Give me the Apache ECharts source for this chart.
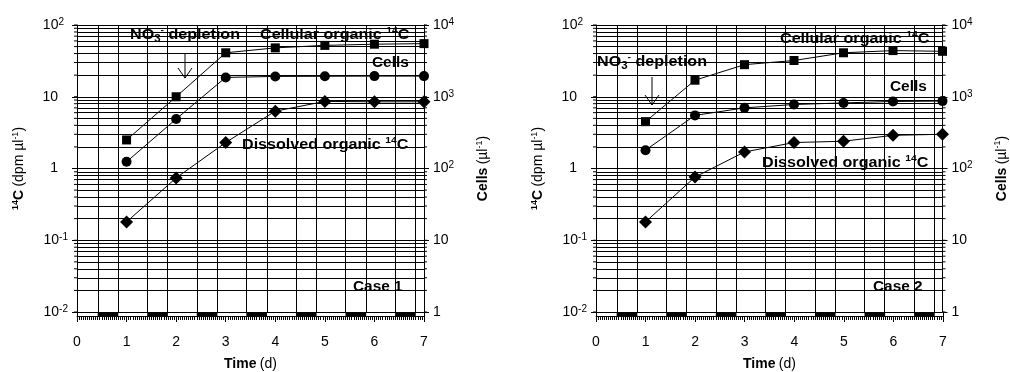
<!DOCTYPE html>
<html>
<head>
<meta charset="utf-8">
<script src="https://cdn.jsdelivr.net/npm/echarts@6/dist/echarts.min.js"></script>
<style>
  html, body { margin: 0; padding: 0; background: #fff; }
  #chart { width: 1010px; height: 372px; }
</style>
</head>
<body>
<div id="chart"></div>
<script>
// Sampling days
const days = [1, 2, 3, 4, 5, 6, 7];

// Case 1: 14C in dpm per µl, cells per µl
const case1Cellular = [2.5, 10, 41, 48, 52, 54, 55];
const case1Cells = [124, 490, 1860, 1920, 1930, 1940, 1940];
const case1Dissolved = [0.18, 0.74, 2.3, 6.3, 8.6, 8.5, 8.5];

// Case 2
const case2Cellular = [4.5, 17, 28, 32, 41, 44, 43];
const case2Cells = [180, 550, 700, 780, 820, 860, 870];
const case2Dissolved = [0.18, 0.76, 1.7, 2.3, 2.4, 2.9, 3.0];

// Light/dark cycle: dark from 10 h to 20 h each day
const darkStartHour = 10;
const darkEndHour = 20;
const nDays = 7;

const FONT = '"Liberation Sans", Arial, Helvetica, sans-serif';
const INK = '#000';

const darkPeriods = [];
const cycleLines = [];
for (let d = 0; d < nDays; d++) {
  const s = d + darkStartHour / 24, e = d + darkEndHour / 24;
  darkPeriods.push([s, e]);
  cycleLines.push(s, e);
}

// Intermediate log grid values (2..9 x 10^n) for the 14C axis
const minorLogValues = [];
for (let e = -2; e < 2; e++) {
  for (let k = 2; k <= 9; k++) minorLogValues.push(k * Math.pow(10, e));
}
const allLogValues = [];
for (let e = -2; e < 2; e++) {
  for (let k = 1; k <= 9; k++) allLogValues.push(k * Math.pow(10, e));
}
allLogValues.push(100);

const supRich = {
  n: { fontFamily: FONT, fontSize: 14, color: INK, lineHeight: 16 },
  s: { fontFamily: FONT, fontSize: 10, color: INK, verticalAlign: 'top', lineHeight: 16 },
  g: { fontFamily: FONT, fontSize: 10, color: INK, width: 10, lineHeight: 16 },
  h: { fontFamily: FONT, fontSize: 10, color: INK, width: 4, lineHeight: 16 }
};

function expText(e) { return e < 0 ? '-' + (-e) : String(e); }

// Left axis: base numbers line up, superscripts hang to the right
function leftLabel(v) {
  const e = Math.round(Math.log10(v));
  if (e === 0) return '{n|1}{g| }';
  if (e === 1) return '{n|10}{g| }';
  if (e > 0) return '{n|10}{s|' + expText(e) + '}{h| }';
  return '{n|10}{s|' + expText(e) + '}';
}
function rightLabel(v) {
  const e = Math.round(Math.log10(v));
  if (e === 0) return '{n|1}';
  if (e === 1) return '{n|10}';
  return '{n|10}{s|' + expText(e) + '}';
}

const zip = (xs, ys) => xs.map((x, i) => [x, ys[i]]);

const grid = [], xAxis = [], yAxis = [], series = [];

function addPanel(p, left, cellular, cells, dissolved) {
  const top = 25, mainH = 287, stripH = 5, width = 347;
  grid.push({ left: left, top: top, width: width, height: mainH });
  grid.push({ left: left, top: top + mainH, width: width, height: stripH });

  const gMain = 2 * p, gStrip = 2 * p + 1;
  const xMain = 2 * p, xStrip = 2 * p + 1;
  const yLeft = 4 * p, yRight = 4 * p + 1, ySL = 4 * p + 2;

  xAxis.push({
    gridIndex: gMain, type: 'value', min: 0, max: nDays, position: 'top',
    axisLine: { show: true, lineStyle: { color: INK, width: 1 } },
    axisTick: { show: false }, axisLabel: { show: false }, splitLine: { show: false }
  });
  xAxis.push({
    gridIndex: gStrip, type: 'value', min: 0, max: nDays, interval: 1, position: 'bottom',
    axisLine: { show: true, lineStyle: { color: INK, width: 1 } },
    axisTick: { show: true, length: 6, lineStyle: { color: INK } },
    minorTick: { show: true, splitNumber: 24, length: 4, lineStyle: { color: INK } },
    axisLabel: { fontFamily: FONT, fontSize: 14, color: INK, margin: 19 },
    splitLine: { show: false },
    name: '{b|Time} {r|(d)}', nameLocation: 'middle', nameGap: 41,
    nameTextStyle: {
      rich: {
        b: { fontFamily: FONT, fontSize: 14, fontWeight: 'bold', color: INK },
        r: { fontFamily: FONT, fontSize: 14, color: INK }
      }
    }
  });

  const nameRich = {
    b: { fontFamily: FONT, fontSize: 14, fontWeight: 'bold', color: INK, lineHeight: 17 },
    r: { fontFamily: FONT, fontSize: 14, color: INK, lineHeight: 17 },
    bs: { fontFamily: FONT, fontSize: 9, fontWeight: 'bold', color: INK, verticalAlign: 'top', lineHeight: 17 },
    rs: { fontFamily: FONT, fontSize: 9, color: INK, verticalAlign: 'top', lineHeight: 17 }
  };

  yAxis.push({
    gridIndex: gMain, type: 'log', logBase: 10, min: 0.01, max: 100, position: 'left',
    axisLine: { show: true, lineStyle: { color: INK, width: 1 } },
    axisTick: { show: true, length: 5, lineStyle: { color: INK } },
    axisLabel: { formatter: leftLabel, rich: supRich, margin: 9, showMinLabel: true, showMaxLabel: true },
    splitLine: { show: true, lineStyle: { color: INK, width: 1 } },
    name: '{bs|14}{b|C} {r|(dpm µl}{rs|-1}{r|)}', nameLocation: 'middle', nameRotate: 90, nameGap: 49,
    nameTextStyle: { rich: nameRich }
  });
  yAxis.push({
    gridIndex: gMain, type: 'log', logBase: 10, min: 1, max: 10000, position: 'right',
    axisLine: { show: true, lineStyle: { color: INK, width: 1 } },
    axisTick: { show: true, length: 5, lineStyle: { color: INK } },
    axisLabel: { formatter: rightLabel, rich: supRich, margin: 9 },
    splitLine: { show: false },
    name: '{b|Cells} {r|(µl}{rs|-1}{r|)}', nameLocation: 'middle', nameRotate: 90, nameGap: 51,
    nameTextStyle: { rich: nameRich }
  });
  yAxis.push({
    gridIndex: gStrip, type: 'value', min: 0, max: 1, position: 'left',
    axisLine: { show: true, lineStyle: { color: INK } }, axisTick: { show: false },
    axisLabel: { show: false }, splitLine: { show: false }
  });
  yAxis.push({
    gridIndex: gStrip, type: 'value', min: 0, max: 1, position: 'right',
    axisLine: { show: true, lineStyle: { color: INK } }, axisTick: { show: false },
    axisLabel: { show: false }, splitLine: { show: false }
  });

  const lineStyle = { color: INK, width: 1 };
  const itemStyle = { color: INK };

  // Grid lines: 2..9 x 10^n horizontals and light/dark boundaries as verticals
  series.push({
    type: 'line', xAxisIndex: xMain, yAxisIndex: yLeft, data: [], silent: true, z: 1,
    markLine: {
      silent: true, symbol: ['none', 'none'], animation: false, label: { show: false },
      lineStyle: { color: INK, width: 1, type: 'solid' },
      emphasis: { disabled: true },
      data: minorLogValues.map(v => ({ yAxis: v })).concat(cycleLines.map(v => ({ xAxis: v })))
    }
  });

  // Short outward ticks on both vertical axes at every log step
  series.push({
    type: 'custom', xAxisIndex: xMain, yAxisIndex: yLeft, silent: true, z: 3,
    data: allLogValues.map(v => [0, v]),
    renderItem: function (params, api) {
      const a = api.coord([0, api.value(1)]);
      const b = api.coord([nDays, api.value(1)]);
      return {
        type: 'group', children: [
          { type: 'line', shape: { x1: a[0] - 3, y1: a[1], x2: a[0], y2: a[1] }, style: { stroke: INK, lineWidth: 1 } },
          { type: 'line', shape: { x1: b[0], y1: b[1], x2: b[0] + 3, y2: b[1] }, style: { stroke: INK, lineWidth: 1 } }
        ]
      };
    }
  });

  // Dark periods along the bottom strip
  series.push({
    type: 'custom', xAxisIndex: xStrip, yAxisIndex: ySL, silent: true,
    data: darkPeriods,
    renderItem: function (params, api) {
      const a = api.coord([api.value(0), 1]);
      const b = api.coord([api.value(1), 0]);
      return { type: 'rect', shape: { x: a[0], y: a[1], width: b[0] - a[0], height: b[1] - a[1] }, style: { fill: INK } };
    }
  });

  series.push({
    name: 'Cellular organic 14C', type: 'line', xAxisIndex: xMain, yAxisIndex: yLeft,
    data: zip(days, cellular), symbol: 'rect', symbolSize: 9, showAllSymbol: true,
    lineStyle: lineStyle, itemStyle: itemStyle, z: 5, animation: false
  });
  series.push({
    name: 'Cells', type: 'line', xAxisIndex: xMain, yAxisIndex: yRight,
    data: zip(days, cells), symbol: 'circle', symbolSize: 10, showAllSymbol: true,
    lineStyle: lineStyle, itemStyle: itemStyle, z: 5, animation: false
  });
  series.push({
    name: 'Dissolved organic 14C', type: 'line', xAxisIndex: xMain, yAxisIndex: yLeft,
    data: zip(days, dissolved), symbol: 'diamond', symbolSize: 13, showAllSymbol: true,
    lineStyle: lineStyle, itemStyle: itemStyle, z: 5, animation: false
  });
}

addPanel(0, 77, case1Cellular, case1Cells, case1Dissolved);
addPanel(1, 596, case2Cellular, case2Cells, case2Dissolved);

const noteRich = {
  t: { fontFamily: FONT, fontSize: 14, fontWeight: 'bold', fill: INK, lineHeight: 18 },
  u: { fontFamily: FONT, fontSize: 9, fontWeight: 'bold', fill: INK, verticalAlign: 'top', lineHeight: 18 },
  d: { fontFamily: FONT, fontSize: 10, fontWeight: 'bold', fill: INK, verticalAlign: 'bottom', lineHeight: 16 }
};

// Annotation text, stretched a little horizontally like the original lettering
function note(text, x, y, sx) {
  return {
    type: 'text', x: x, y: y, z: 50, silent: true, scaleX: sx || 1.15, scaleY: 1,
    style: { text: text, rich: noteRich, fill: INK, align: 'left', verticalAlign: 'middle',
      fontFamily: FONT, fontSize: 14, fontWeight: 'bold' }
  };
}

function arrow(x, y1, y2) {
  return {
    type: 'group', z: 50, silent: true, children: [
      { type: 'line', shape: { x1: x, y1: y1, x2: x, y2: y2 }, style: { stroke: INK, lineWidth: 1 } },
      { type: 'polyline', shape: { points: [[x - 7, y2 - 10], [x, y2], [x + 7, y2 - 10]] }, style: { stroke: INK, fill: null, lineWidth: 1 } }
    ]
  };
}

const noText = '{t|NO}{d|3}{u|-}{t| depletion}';
const cellularText = '{t|Cellular organic }{u|14}{t|C}';
const dissolvedText = '{t|Dissolved organic }{u|14}{t|C}';

const graphic = [
  note(noText, 130, 35), arrow(185, 53, 78),
  note(cellularText, 260, 35),
  note('{t|Cells}', 372, 63, 1.1),
  note(dissolvedText, 242, 145),
  note('{t|Case 1}', 353, 287, 1.1),

  note(cellularText, 780, 39),
  note(noText, 597, 62), arrow(652, 77, 105),
  note('{t|Cells}', 890, 87, 1.1),
  note(dissolvedText, 762, 163),
  note('{t|Case 2}', 873, 287, 1.1)
];

const chart = echarts.init(document.getElementById('chart'), null, { renderer: 'canvas' });
chart.setOption({
  backgroundColor: '#fff',
  animation: false,
  textStyle: { fontFamily: FONT, color: INK },
  grid: grid, xAxis: xAxis, yAxis: yAxis, series: series, graphic: graphic
});
</script>
</body>
</html>
